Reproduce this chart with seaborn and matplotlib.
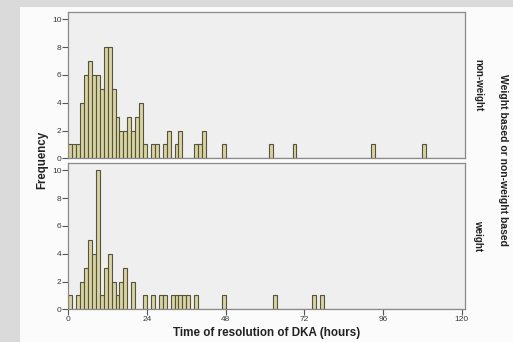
import numpy as np
import pandas as pd
import seaborn as sns
import matplotlib.pyplot as plt

# ---- data (bins are 1.2 hours wide, index k covers [1.2k, 1.2k+1.2)) ----
bin_width = 1.2
nonweight_bin = [0, 1, 2, 3, 4, 5, 6, 7, 8, 9, 10, 11, 12, 13, 14, 15, 16, 17, 18, 19,
                 21, 22, 24, 25, 27, 28, 32, 33, 34, 39, 51, 57, 77, 90]
nonweight_count = [1, 1, 1, 4, 6, 7, 6, 6, 5, 8, 8, 5, 3, 2, 2, 3, 2, 3, 4, 1,
                   1, 1, 1, 2, 1, 2, 1, 1, 2, 1, 1, 1, 1, 1]
weight_bin = [0, 2, 3, 4, 5, 6, 7, 8, 9, 10, 11, 12, 13, 14, 16, 19, 21, 23, 24,
              26, 27, 28, 29, 30, 32, 39, 52, 62, 64]
weight_count = [1, 1, 2, 3, 5, 4, 10, 1, 3, 4, 2, 1, 2, 3, 2, 1, 1, 1, 1,
                1, 1, 1, 1, 1, 1, 1, 1, 1, 1]
groups = ["non-weight", "weight"]
x_ticks = [0, 24, 48, 72, 96, 120]
y_ticks = [0, 2, 4, 6, 8, 10]

def expand(bins, counts, label):
    hours = (np.asarray(bins) + 0.5) * bin_width
    return pd.DataFrame({"hours": np.repeat(hours, counts), "group": label})

df = pd.concat([expand(nonweight_bin, nonweight_count, groups[0]),
                expand(weight_bin, weight_count, groups[1])], ignore_index=True)

sns.set_style("white")
plt.rcParams["font.family"] = ["Liberation Sans", "DejaVu Sans"]

W, H = 513, 342
fig = plt.figure(figsize=(W / 100, H / 100), dpi=100)
fig.patch.set_facecolor("#dadada")
bg = fig.add_axes([20 / W, 0, 1 - 20 / W, 1 - 7 / H], zorder=-5)
bg.set_facecolor("#fbfbfb")
bg.set_xticks([])
bg.set_yticks([])
for s in bg.spines.values():
    s.set_visible(False)

face = "#d8d3a0"
edge = "#55533e"
panel_bg = "#efefef"
frame = "#8a8a8a"
txt = "#3a3a3a"

left, right = 68.3 / W, 465 / W
axes_pos = [(1 - 158.3 / H, 1 - 11.7 / H), (1 - 309.3 / H, 1 - 162.7 / H)]
bins = np.arange(0, 120 + 1e-9, bin_width)

for i, g in enumerate(groups):
    b, t = axes_pos[i]
    ax = fig.add_axes([left, b, right - left, t - b])
    ax.set_facecolor(panel_bg)
    sns.histplot(data=df[df["group"] == g], x="hours", bins=bins, ax=ax,
                 color=face, edgecolor=edge, linewidth=0.8, alpha=1)
    ax.set_xlim(0, 121)
    ax.set_ylim(0, 10.55)
    ax.set_yticks(y_ticks)
    ax.set_xticks(x_ticks)
    ax.set_ylabel("")
    ax.set_xlabel("")
    for s in ax.spines.values():
        s.set_color(frame)
        s.set_linewidth(0.9)
    ax.tick_params(axis="y", direction="out", length=4, width=0.8, color="#555555",
                   labelsize=6, labelcolor=txt, pad=1, left=True)
    if i == 0:
        ax.tick_params(axis="x", bottom=False, labelbottom=False)
    else:
        ax.tick_params(axis="x", direction="out", length=4, width=0.8, color="#555555",
                       labelsize=6, labelcolor=txt, pad=1, bottom=True)
    fig.text(478 / W, (b + t) / 2, g, rotation=-90, ha="center", va="center",
             fontsize=7, fontweight="bold", color="#222222")

fig.text(42 / W, 1 - 160 / H, "Frequency", rotation=90, ha="center", va="center",
         fontsize=8.3, fontweight="bold", color="#222222")
fig.text((left + right) / 2, 1 - 333 / H, "Time of resolution of DKA (hours)",
         ha="center", va="center", fontsize=8.4, fontweight="bold", color="#222222")
fig.text(503 / W, 1 - 160 / H, "Weight based or non-weight based", rotation=-90,
         ha="center", va="center", fontsize=7.5, fontweight="bold", color="#222222")

fig.savefig("out.png", dpi=100, facecolor=fig.get_facecolor())
